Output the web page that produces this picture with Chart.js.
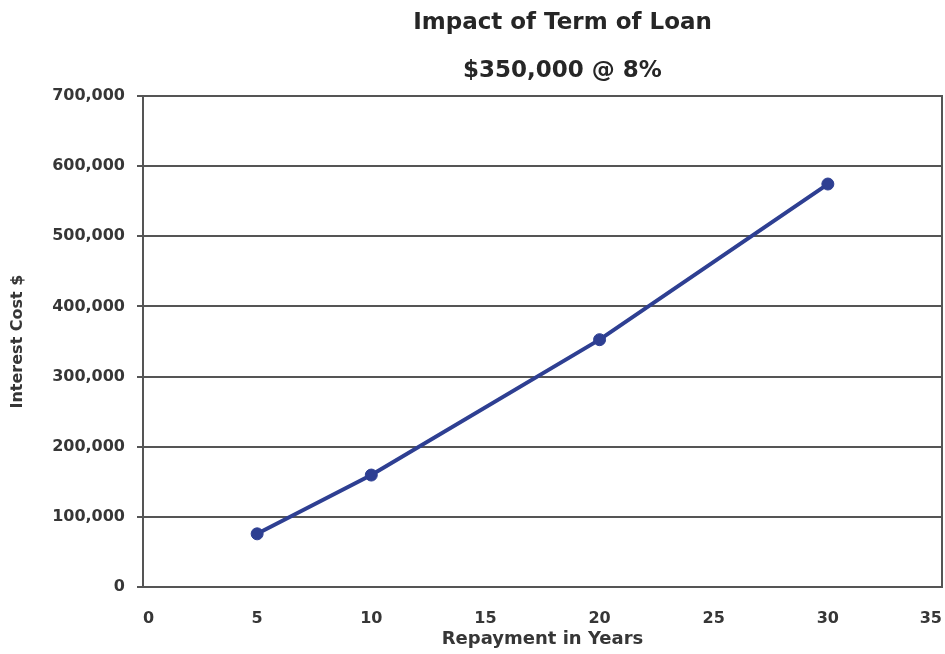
<!DOCTYPE html>
<html>
<head>
<meta charset="utf-8">
<title>Impact of Term of Loan</title>
<script src="https://cdn.jsdelivr.net/npm/chart.js@4"></script>
<style>
  html, body { margin: 0; padding: 0; background: #fff; }
  #wrap { width: 945px; height: 654px; }
</style>
</head>
<body>
<div id="wrap"><canvas id="loanChart" width="945" height="654"></canvas></div>
<script>
// repayment term (years) and total interest paid on $350,000 at 8%
const termYears = [5, 10, 20, 30]
const interestCost = [75800, 159600, 352600, 574500]

const titleLines = ["Impact of Term of Loan", "$350,000 @ 8%"]
const xAxisLabel = "Repayment in Years"
const yAxisLabel = "Interest Cost $"

const lineColor = "#2e3f92"
const gridColor = "#555555"
const textColor = "#363636"
const fontFamily = "'DejaVu Sans', Verdana, sans-serif"

// two centred heading lines plus the frame round the plot
const headingPlugin = {
  id: "heading",
  afterDraw(chart) {
    const { ctx, chartArea } = chart
    ctx.save()
    ctx.strokeStyle = gridColor
    ctx.lineWidth = 2
    ctx.strokeRect(chartArea.left, chartArea.top, chartArea.right - chartArea.left, chartArea.bottom - chartArea.top)
    ctx.fillStyle = "#262626"
    ctx.font = "bold 23px " + fontFamily
    ctx.textAlign = "center"
    ctx.textBaseline = "middle"
    const cx = (chartArea.left + chartArea.right) / 2 + 20
    ctx.fillText(titleLines[0], cx, 23)
    ctx.fillText(titleLines[1], cx, 71)
    ctx.restore()
  },
}

const ctx = document.getElementById("loanChart").getContext("2d")

new Chart(ctx, {
  type: "line",
  data: {
    datasets: [
      {
        data: termYears.map((t, i) => ({ x: t, y: interestCost[i] })),
        borderColor: lineColor,
        backgroundColor: lineColor,
        borderWidth: 4,
        pointRadius: 6,
        pointBorderWidth: 1,
        pointHoverRadius: 6,
        tension: 0,
      },
    ],
  },
  options: {
    responsive: false,
    animation: false,
    layout: { autoPadding: false, padding: { top: 96, right: 3, left: 0, bottom: 4 } },
    plugins: {
      legend: { display: false },
      tooltip: { enabled: false },
    },
    scales: {
      x: {
        type: "linear",
        min: 0,
        max: 35,
        ticks: {
          stepSize: 5,
          padding: 14,
          align: "inner",
          color: textColor,
          font: { family: fontFamily, size: 16, weight: "bold" },
        },
        grid: { display: false },
        border: { color: gridColor, width: 2 },
        title: {
          display: true,
          text: xAxisLabel,
          color: textColor,
          padding: { top: 0, bottom: 0 },
          font: { family: fontFamily, size: 18, weight: "bold" },
        },
        afterFit(scale) {
          // keep the plot full width; end labels sit inside the frame
          scale.height = 63
          scale.paddingRight = 0
          scale.paddingLeft = 0
        },
      },
      y: {
        min: 0,
        max: 700000,
        ticks: {
          stepSize: 100000,
          padding: 12,
          color: textColor,
          font: { family: fontFamily, size: 16, weight: "bold" },
          callback: v => v.toLocaleString("en-US"),
        },
        grid: { color: gridColor, lineWidth: 2, tickLength: 6 },
        border: { color: gridColor, width: 2 },
        title: {
          display: true,
          text: yAxisLabel,
          color: textColor,
          padding: { top: 8, bottom: 8 },
          font: { family: fontFamily, size: 16, weight: "bold" },
        },
        afterFit(scale) {
          scale.width = 143
        },
      },
    },
  },
  plugins: [headingPlugin],
})
</script>
</body>
</html>
